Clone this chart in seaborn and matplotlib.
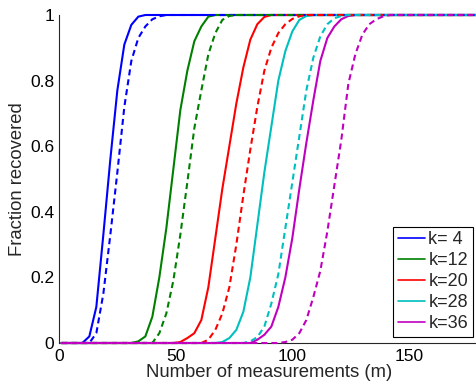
import matplotlib
matplotlib.use("Agg")
import matplotlib.pyplot as plt
import seaborn as sns
import pandas as pd

# ---- data ----
k_labels = ["k= 4", "k=12", "k=20", "k=28", "k=36"]
colors = ["#0000ff", "#008000", "#ff0000", "#00bfbf", "#bf00bf"]

# solid curves
b1_m = [1, 10, 13, 16, 19, 22, 25, 28, 31, 34, 37, 181]
b1_f = [0, 0, 0.02, 0.11, 0.33, 0.56, 0.77, 0.91, 0.97, 0.995, 1, 1]
g1_m = [1, 31, 34, 37, 40, 43, 46, 49, 52, 55, 58, 61, 64, 67, 181]
g1_f = [0, 0, 0.005, 0.02, 0.08, 0.2, 0.35, 0.53, 0.71, 0.83, 0.92, 0.965, 0.995, 1, 1]
r1_m = [1, 49, 52, 55, 58, 61, 64, 67, 70, 73, 76, 79, 82, 85, 88, 91, 181]
r1_f = [0, 0, 0.003, 0.015, 0.03, 0.07, 0.17, 0.32, 0.47, 0.6, 0.73, 0.84, 0.925, 0.972, 0.994, 1, 1]
c1_m = [1, 67, 70, 73, 76, 79, 82, 85, 88, 91, 94, 97, 100, 103, 106, 109, 181]
c1_f = [0, 0, 0.003, 0.015, 0.04, 0.095, 0.2, 0.36, 0.52, 0.66, 0.8, 0.89, 0.95, 0.985, 0.997, 1, 1]
m1_m = [1, 82, 85, 88, 91, 94, 97, 100, 103, 106, 109, 112, 115, 118, 121, 124, 127, 181]
m1_f = [0, 0, 0.01, 0.025, 0.05, 0.11, 0.2, 0.32, 0.47, 0.61, 0.74, 0.86, 0.93, 0.965, 0.987, 0.997, 1, 1]

# dashed curves
b2_m = [1, 13, 16, 19, 22, 25, 28, 31, 34, 37, 40, 43, 46, 181]
b2_f = [0, 0, 0.03, 0.15, 0.33, 0.52, 0.72, 0.86, 0.93, 0.965, 0.987, 0.996, 1, 1]
g2_m = [1, 40, 43, 46, 49, 52, 55, 58, 61, 64, 67, 70, 73, 76, 181]
g2_f = [0, 0, 0.03, 0.09, 0.19, 0.33, 0.49, 0.655, 0.77, 0.88, 0.945, 0.985, 0.997, 1, 1]
r2_m = [1, 61, 64, 67, 70, 73, 76, 79, 82, 85, 88, 91, 94, 97, 100, 103, 106, 181]
r2_f = [0, 0, 0.01, 0.04, 0.09, 0.17, 0.3, 0.45, 0.59, 0.72, 0.83, 0.9, 0.945, 0.972, 0.988, 0.996, 1, 1]
c2_m = [1, 79, 82, 85, 88, 91, 94, 97, 100, 103, 106, 109, 112, 115, 118, 121, 124, 181]
c2_f = [0, 0, 0.005, 0.018, 0.05, 0.12, 0.21, 0.35, 0.49, 0.63, 0.77, 0.87, 0.935, 0.972, 0.99, 0.997, 1, 1]
m2_m = [1, 94, 97, 100, 103, 106, 109, 112, 115, 118, 121, 124, 127, 130, 133, 136, 139, 142, 181]
m2_f = [0, 0, 0.003, 0.01, 0.03, 0.07, 0.14, 0.22, 0.34, 0.48, 0.62, 0.79, 0.88, 0.94, 0.972, 0.987, 0.996, 1, 1]

x_ticks = [0, 50, 100, 150]
y_ticks = [0, 0.2, 0.4, 0.6, 0.8, 1]
y_tick_labels = ["0", "0.2", "0.4", "0.6", "0.8", "1"]

solid = [(b1_m, b1_f), (g1_m, g1_f), (r1_m, r1_f), (c1_m, c1_f), (m1_m, m1_f)]
dashed = [(b2_m, b2_f), (g2_m, g2_f), (r2_m, r2_f), (c2_m, c2_f), (m2_m, m2_f)]

# ---- style ----
sns.set_theme(style="white")
plt.rcParams["font.family"] = ["Liberation Sans", "DejaVu Sans"]
plt.rcParams["font.size"] = 12.5

fig = plt.figure(figsize=(4.76, 3.85), dpi=100)
ax = fig.add_axes([59 / 476, 42 / 385, (479 - 59) / 476, (343 - 15) / 385])

for (mx, fy), col, lab in zip(solid, colors, k_labels):
    df = pd.DataFrame({"m": mx, "f": fy})
    sns.lineplot(data=df, x="m", y="f", ax=ax, color=col, lw=1.5,
                 estimator=None, sort=False, legend=False)
    ax.lines[-1].set_clip_on(False)

for (mx, fy), col in zip(dashed, colors):
    df = pd.DataFrame({"m": mx, "f": fy})
    sns.lineplot(data=df, x="m", y="f", ax=ax, color=col, lw=1.5,
                 estimator=None, sort=False, legend=False)
    ax.lines[-1].set_dashes((2.9, 1.9))
    ax.lines[-1].set_clip_on(False)

ax.set_xlim(0, 180)
ax.set_ylim(0, 1)
ax.set_xticks(x_ticks)
ax.set_xticklabels([str(t) for t in x_ticks])
ax.set_yticks(y_ticks)
ax.set_yticklabels(y_tick_labels)
ax.tick_params(axis="both", direction="in", length=4, width=0.8,
               colors="#262626", labelsize=12.5, labelcolor="black")
ax.tick_params(axis="x", pad=4.5)
ax.tick_params(axis="y", pad=3.5)
for s in ["top", "right"]:
    ax.spines[s].set_visible(False)
for s in ["left", "bottom"]:
    ax.spines[s].set_color("#262626")
    ax.spines[s].set_linewidth(0.8)
    ax.spines[s].set_zorder(0.5)

ax.set_xlabel("Number of measurements (m)", fontsize=13.3, labelpad=0)
ax.set_ylabel("Fraction recovered", fontsize=13.3, labelpad=3)

leg_lines = [plt.Line2D([], [], color=c, lw=1.2) for c in colors]
leg = ax.legend(leg_lines, k_labels, loc="lower right", fontsize=13,
                frameon=True, fancybox=False, framealpha=1, edgecolor="black",
                handlelength=1.5, handletextpad=0.2, labelspacing=0.22,
                borderpad=0.25, borderaxespad=0.35)
leg.get_frame().set_linewidth(0.8)

fig.savefig("out.png", dpi=100)
